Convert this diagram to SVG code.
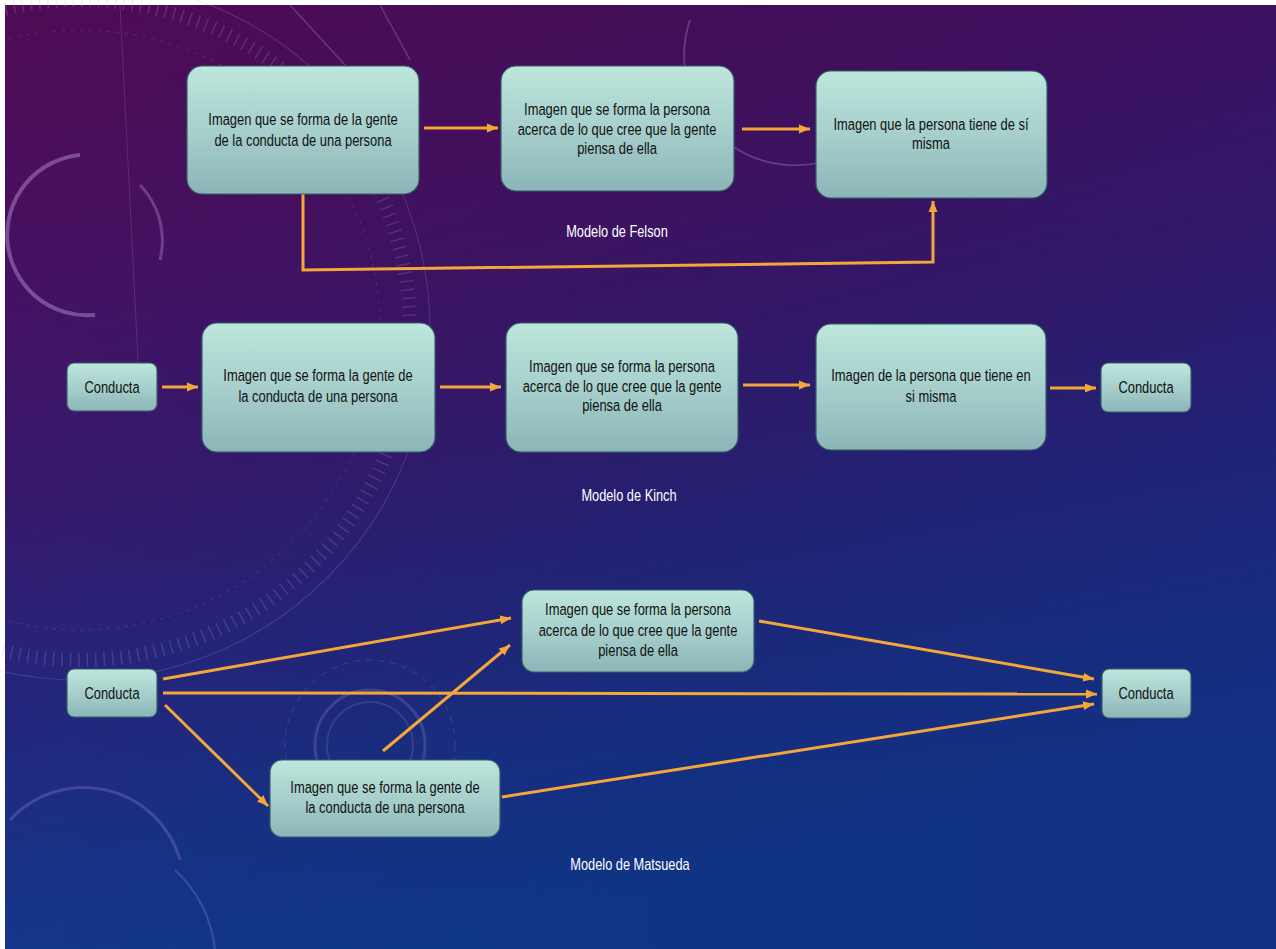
<svg xmlns="http://www.w3.org/2000/svg" width="1276" height="949" viewBox="0 0 1276 949">
<defs>
<linearGradient id="bg" x1="0" y1="0" x2="0.3" y2="1">
<stop offset="0" stop-color="#4f0c55"/>
<stop offset="0.25" stop-color="#471061"/>
<stop offset="0.5" stop-color="#351a6e"/>
<stop offset="0.68" stop-color="#24267c"/>
<stop offset="0.85" stop-color="#173287"/>
<stop offset="1" stop-color="#10398f"/>
</linearGradient>
<linearGradient id="bg2" x1="0" y1="0" x2="1" y2="0">
<stop offset="0" stop-color="#000000" stop-opacity="0"/>
<stop offset="1" stop-color="#1a1060" stop-opacity="0.2"/>
</linearGradient>
<linearGradient id="box" x1="0" y1="0" x2="0" y2="1">
<stop offset="0" stop-color="#bde6dc"/>
<stop offset="0.5" stop-color="#a7cfcc"/>
<stop offset="1" stop-color="#8cb5b8"/>
</linearGradient>
<marker id="ah" markerWidth="12" markerHeight="10" refX="11" refY="5" orient="auto" markerUnits="userSpaceOnUse">
<path d="M0,0.5 L11,5 L0,9.5 Z" fill="#f4a638"/>
</marker>
</defs>
<style>
.node rect{fill:url(#box);stroke:#35606a;stroke-width:1.2}
.t{font-family:"Liberation Sans",Arial,sans-serif;font-size:17px;fill:#111111;text-anchor:middle}
.title{font-family:"Liberation Sans",Arial,sans-serif;font-size:16px;fill:#ffffff;text-anchor:middle}
.c{fill:none;stroke:#f4a638;stroke-width:3;marker-end:url(#ah)}
.deco{fill:none;stroke:#c8a8e0}
</style>
<rect x="0" y="0" width="1276" height="949" fill="#ffffff"/>
<rect x="5" y="5" width="1271" height="944" fill="url(#bg)"/>
<rect x="5" y="5" width="1271" height="944" fill="url(#bg2)"/>
<g id="background-decoration" opacity="0.9">
<path class="deco" d="M 80 155 A 80 80 0 0 0 95 315" stroke-width="4" stroke-opacity="0.45"/>
<path class="deco" d="M 140 185 A 80 80 0 0 1 160 260" stroke-width="3" stroke-opacity="0.35"/>
<circle class="deco" cx="80" cy="330" r="330" stroke-width="14" stroke-dasharray="1.5 7" stroke-opacity="0.22"/>
<circle class="deco" cx="80" cy="330" r="350" stroke-width="1.2" stroke-opacity="0.2"/>
<circle class="deco" cx="80" cy="330" r="300" stroke-width="1" stroke-dasharray="3 6" stroke-opacity="0.2"/>
<path class="deco" d="M 690 20 A 110 110 0 0 0 850 150" stroke-width="2" stroke-opacity="0.3"/>
<circle class="deco" cx="370" cy="745" r="55" stroke-width="3" stroke-opacity="0.22"/>
<circle class="deco" cx="370" cy="745" r="43" stroke-width="2" stroke-opacity="0.18"/>
<circle class="deco" cx="370" cy="745" r="85" stroke-width="1.5" stroke-dasharray="6 6" stroke-opacity="0.15"/>
<path class="deco" d="M 10 820 A 100 100 0 0 1 180 860" stroke-width="3" stroke-opacity="0.25"/>
<path class="deco" d="M 175 870 A 130 130 0 0 1 215 949" stroke-width="2" stroke-opacity="0.25"/>
<path class="deco" d="M 120 5 L 140 400" stroke-width="1" stroke-opacity="0.2"/>
<path class="deco" d="M 290 5 L 345 65" stroke-width="1.5" stroke-opacity="0.3"/>
<path class="deco" d="M 380 5 L 410 60" stroke-width="1.5" stroke-opacity="0.3"/>
</g>
<g id="connectors">
<line class="c" x1="424" y1="128" x2="498" y2="128"/>
<line class="c" x1="742" y1="129" x2="810" y2="129"/>
<polyline class="c" points="303,194 303,270 933,262 933,201"/>
<line class="c" x1="162" y1="387" x2="198" y2="387"/>
<line class="c" x1="440" y1="387" x2="501" y2="387"/>
<line class="c" x1="743" y1="385" x2="810" y2="385"/>
<line class="c" x1="1050" y1="388" x2="1096" y2="388"/>
<line class="c" x1="163" y1="679" x2="511" y2="618"/>
<line class="c" x1="163" y1="693" x2="1097" y2="694"/>
<line class="c" x1="165" y1="705" x2="268" y2="806"/>
<line class="c" x1="383" y1="751" x2="510" y2="645"/>
<line class="c" x1="759" y1="621" x2="1094" y2="679"/>
<line class="c" x1="502" y1="797" x2="1094" y2="704"/>
</g>
<g id="felson-1" class="node">
<rect x="187" y="66" width="232" height="128" rx="15"/>
<text class="t" transform="translate(303 0) scale(0.76 1)"><tspan x="0" y="125">Imagen que se forma de la gente</tspan><tspan x="0" y="146">de la conducta de una persona</tspan></text>
</g>
<g id="felson-2" class="node">
<rect x="501" y="66" width="233" height="125" rx="15"/>
<text class="t" transform="translate(617 0) scale(0.76 1)"><tspan x="0" y="115">Imagen que se forma la persona</tspan><tspan x="0" y="135">acerca de lo que cree que la gente</tspan><tspan x="0" y="154">piensa de ella</tspan></text>
</g>
<g id="felson-3" class="node">
<rect x="816" y="71" width="231" height="127" rx="15"/>
<text class="t" transform="translate(931 0) scale(0.76 1)"><tspan x="0" y="130">Imagen que la persona tiene de sí</tspan><tspan x="0" y="149">misma</tspan></text>
</g>
<text class="title" transform="translate(617 0) scale(0.8 1)" x="0" y="237">Modelo de Felson</text>
<g id="kinch-0" class="node">
<rect x="67" y="363" width="90" height="48" rx="7"/>
<text class="t" transform="translate(112 0) scale(0.76 1)" x="0" y="393">Conducta</text>
</g>
<g id="kinch-1" class="node">
<rect x="202" y="323" width="233" height="129" rx="15"/>
<text class="t" transform="translate(318 0) scale(0.76 1)"><tspan x="0" y="381">Imagen que se forma la gente de</tspan><tspan x="0" y="402">la conducta de una persona</tspan></text>
</g>
<g id="kinch-2" class="node">
<rect x="506" y="323" width="232" height="129" rx="15"/>
<text class="t" transform="translate(622 0) scale(0.76 1)"><tspan x="0" y="372">Imagen que se forma la persona</tspan><tspan x="0" y="392">acerca de lo que cree que la gente</tspan><tspan x="0" y="411">piensa de ella</tspan></text>
</g>
<g id="kinch-3" class="node">
<rect x="816" y="324" width="230" height="126" rx="15"/>
<text class="t" transform="translate(931 0) scale(0.76 1)"><tspan x="0" y="381">Imagen de la persona que tiene en</tspan><tspan x="0" y="402">si misma</tspan></text>
</g>
<g id="kinch-4" class="node">
<rect x="1101" y="363" width="90" height="49" rx="7"/>
<text class="t" transform="translate(1146 0) scale(0.76 1)" x="0" y="393">Conducta</text>
</g>
<text class="title" transform="translate(629 0) scale(0.8 1)" x="0" y="501">Modelo de Kinch</text>
<g id="matsueda-0" class="node">
<rect x="67" y="669" width="90" height="48" rx="7"/>
<text class="t" transform="translate(112 0) scale(0.76 1)" x="0" y="699">Conducta</text>
</g>
<g id="matsueda-1" class="node">
<rect x="522" y="590" width="232" height="82" rx="12"/>
<text class="t" transform="translate(638 0) scale(0.76 1)"><tspan x="0" y="615">Imagen que se forma la persona</tspan><tspan x="0" y="636">acerca de lo que cree que la gente</tspan><tspan x="0" y="656">piensa de ella</tspan></text>
</g>
<g id="matsueda-2" class="node">
<rect x="270" y="760" width="230" height="77" rx="12"/>
<text class="t" transform="translate(385 0) scale(0.76 1)"><tspan x="0" y="793">Imagen que se forma la gente de</tspan><tspan x="0" y="813">la conducta de una persona</tspan></text>
</g>
<g id="matsueda-3" class="node">
<rect x="1102" y="669" width="89" height="49" rx="7"/>
<text class="t" transform="translate(1146 0) scale(0.76 1)" x="0" y="699">Conducta</text>
</g>
<text class="title" transform="translate(630 0) scale(0.8 1)" x="0" y="870">Modelo de Matsueda</text>
</svg>
